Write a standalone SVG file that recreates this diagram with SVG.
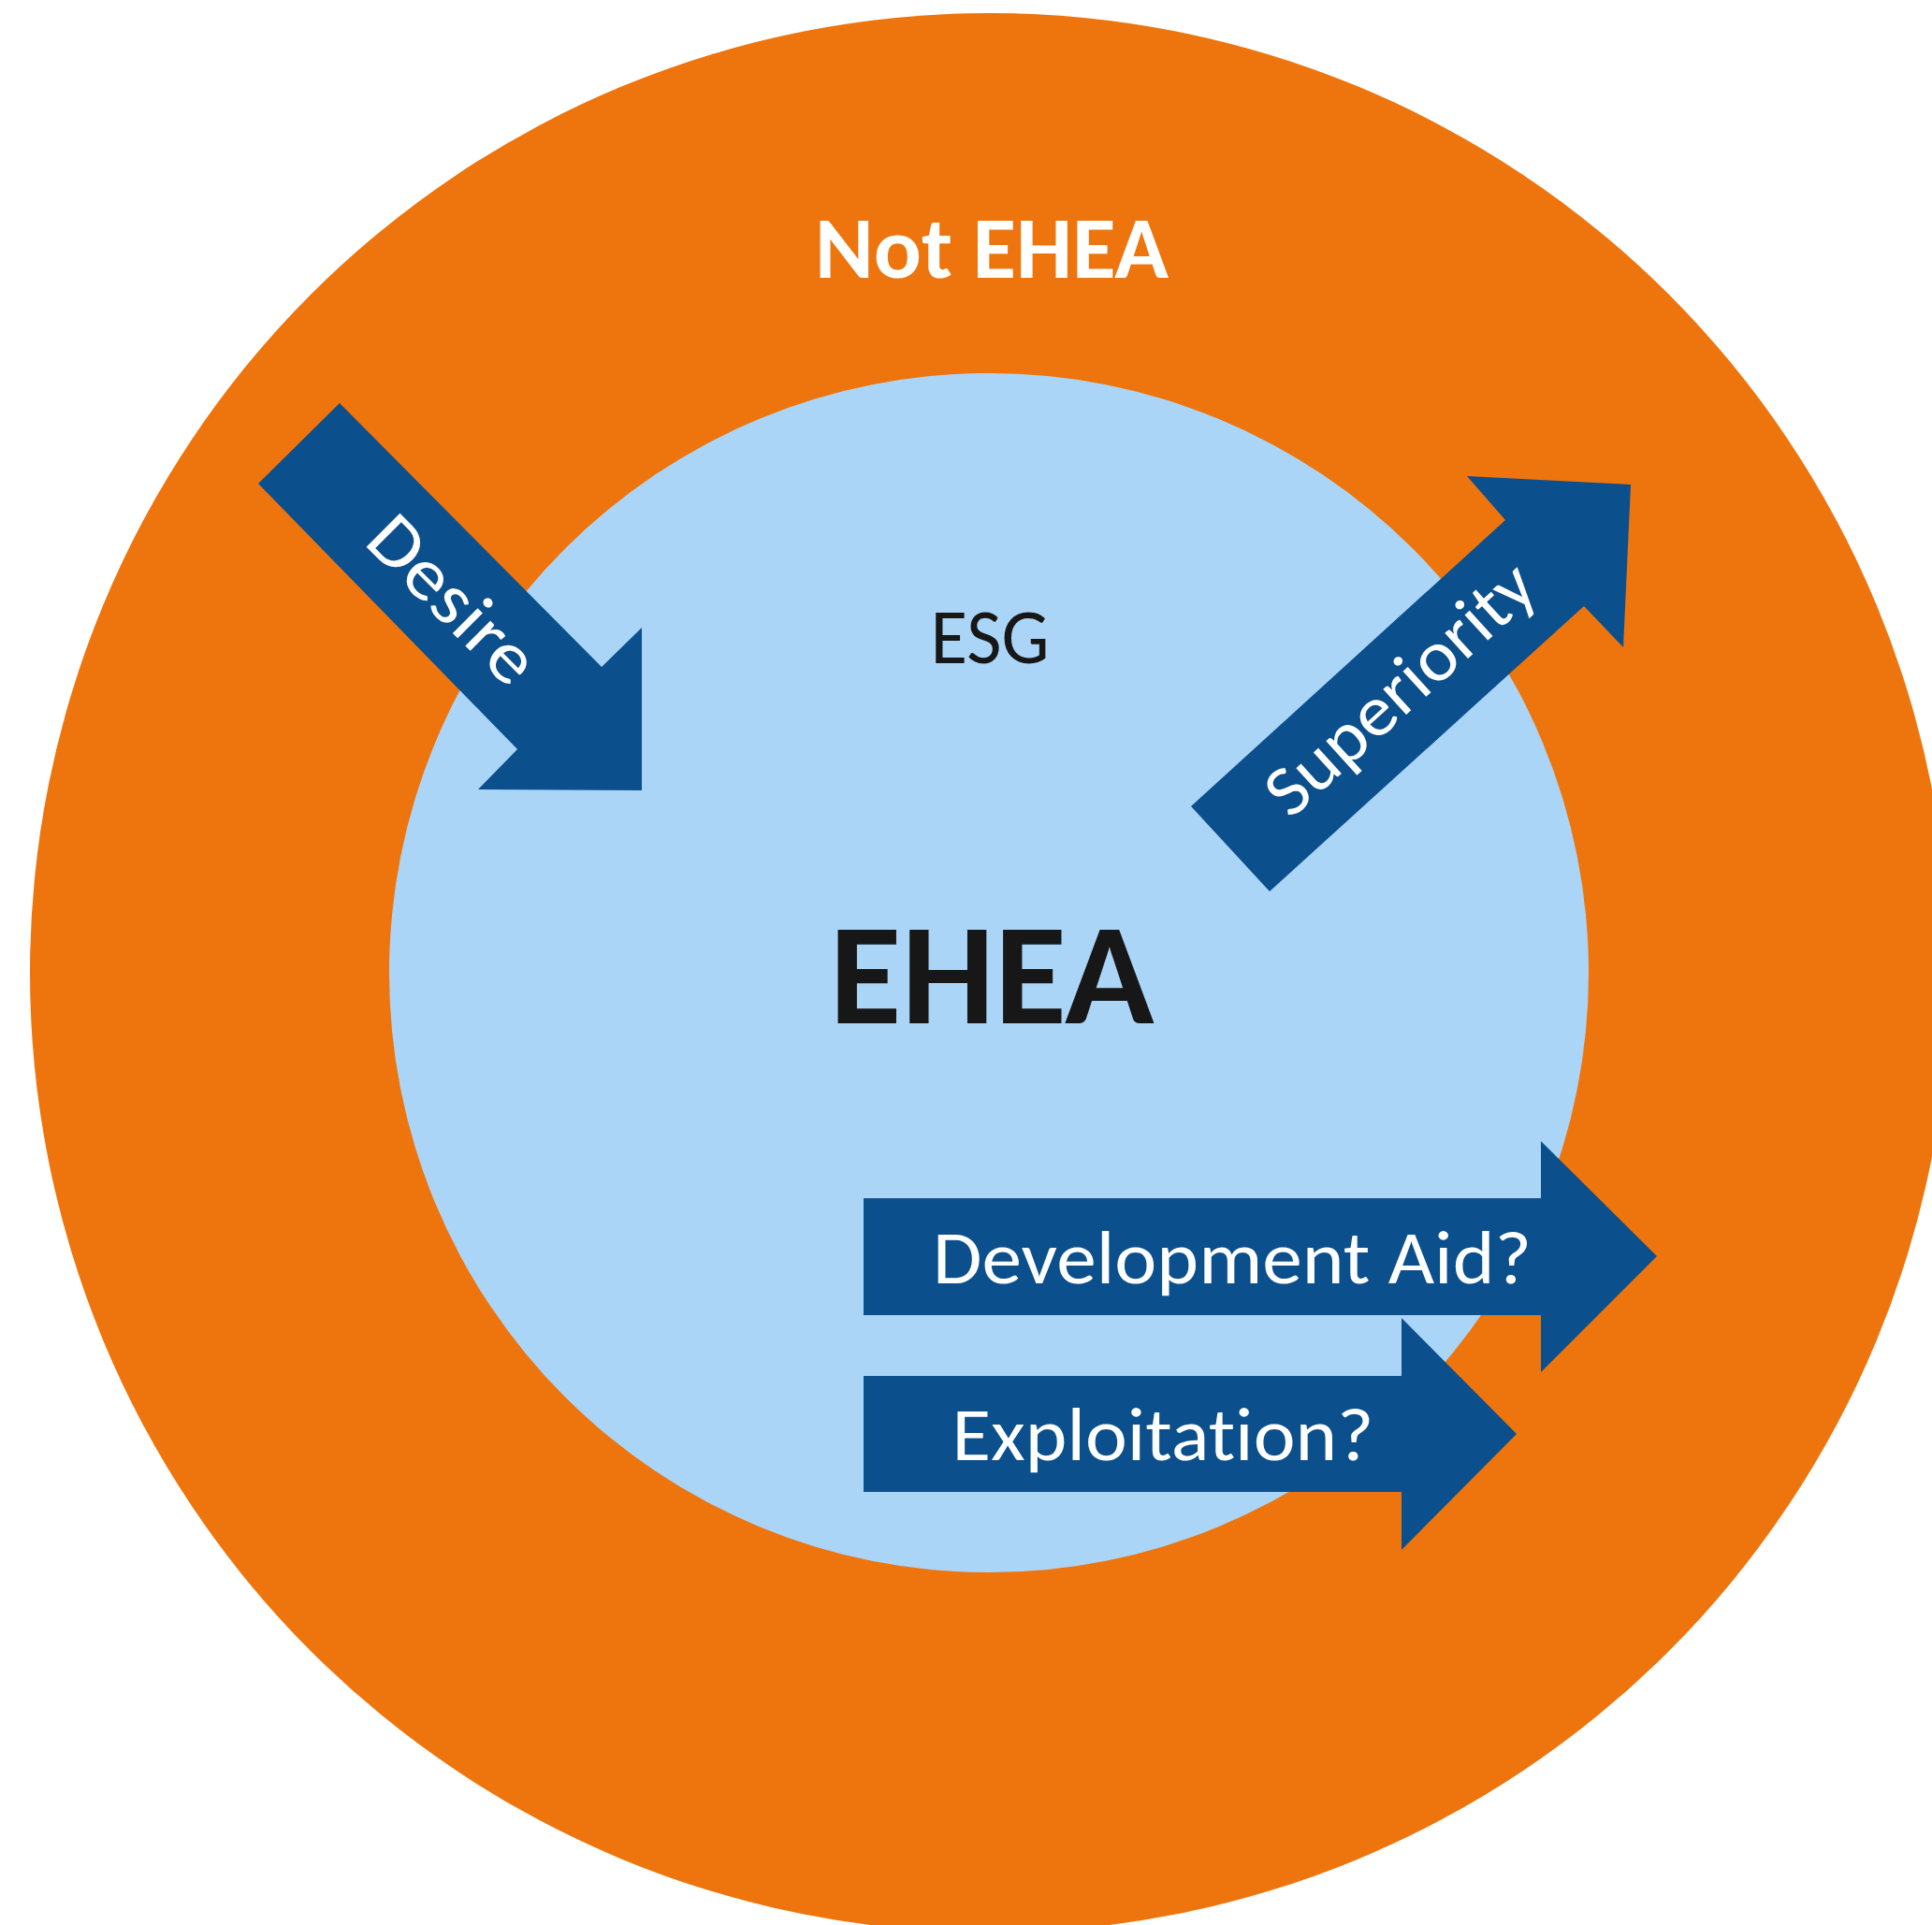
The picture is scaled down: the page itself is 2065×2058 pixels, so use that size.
<svg xmlns="http://www.w3.org/2000/svg" width="2065" height="2058" viewBox="0 0 2065 2058">
<style>
.lbl{font-family:Carlito,Lato,"Open Sans",sans-serif;font-variant-ligatures:none;font-feature-settings:"liga" 0,"clig" 0;}
.w{fill:#ffffff;}
.k{fill:#171717;}
.arrow{fill:#0B4F8C;}
</style>
<rect x="0" y="0" width="2065" height="2058" fill="#ffffff"/>
<g id="not-ehea">
  <circle cx="1058" cy="1040" r="1026" fill="#EE750D"/>
  <text class="lbl w" x="1060" y="297" font-size="93" font-weight="bold" text-anchor="middle" textLength="378" lengthAdjust="spacingAndGlyphs">Not EHEA</text>
</g>
<g id="ehea">
  <circle cx="1057" cy="1040" r="641" fill="#ABD5F7"/>
  <text class="lbl k" x="1058" y="709" font-size="84" text-anchor="middle" textLength="127" lengthAdjust="spacingAndGlyphs">ESG</text>
  <text class="lbl k" x="1060" y="1094" font-size="155" font-weight="bold" text-anchor="middle" textLength="347" lengthAdjust="spacingAndGlyphs">EHEA</text>
</g>
<g id="connectors">
  <g id="desire">
    <polygon class="arrow" points="363,431 643,713 686,671 686,845 511,844 553,801 276,517"/>
    <text class="lbl w" transform="translate(466,659) rotate(45)" font-size="79" text-anchor="middle" textLength="222" lengthAdjust="spacingAndGlyphs">Desire</text>
  </g>
  <g id="superiority">
    <polygon class="arrow" points="1357,953 1273,862 1609,556 1568,509 1743,518 1735,692 1693,648"/>
    <text class="lbl w" transform="translate(1513,755) rotate(-42.3)" font-size="77" text-anchor="middle" textLength="362" lengthAdjust="spacingAndGlyphs">Superiority</text>
  </g>
  <g id="development-aid">
    <polygon class="arrow" points="923,1281 1647,1281 1647,1220 1771,1343 1647,1467 1647,1406 923,1406"/>
    <text class="lbl w" x="1317" y="1372" font-size="81" text-anchor="middle" textLength="640" lengthAdjust="spacingAndGlyphs">Development Aid?</text>
  </g>
  <g id="exploitation">
    <polygon class="arrow" points="923,1471 1498,1471 1498,1409 1621,1533 1498,1657 1498,1595 923,1595"/>
    <text class="lbl w" x="1243" y="1561" font-size="81" text-anchor="middle" textLength="451" lengthAdjust="spacingAndGlyphs">Exploitation?</text>
  </g>
</g>
</svg>
